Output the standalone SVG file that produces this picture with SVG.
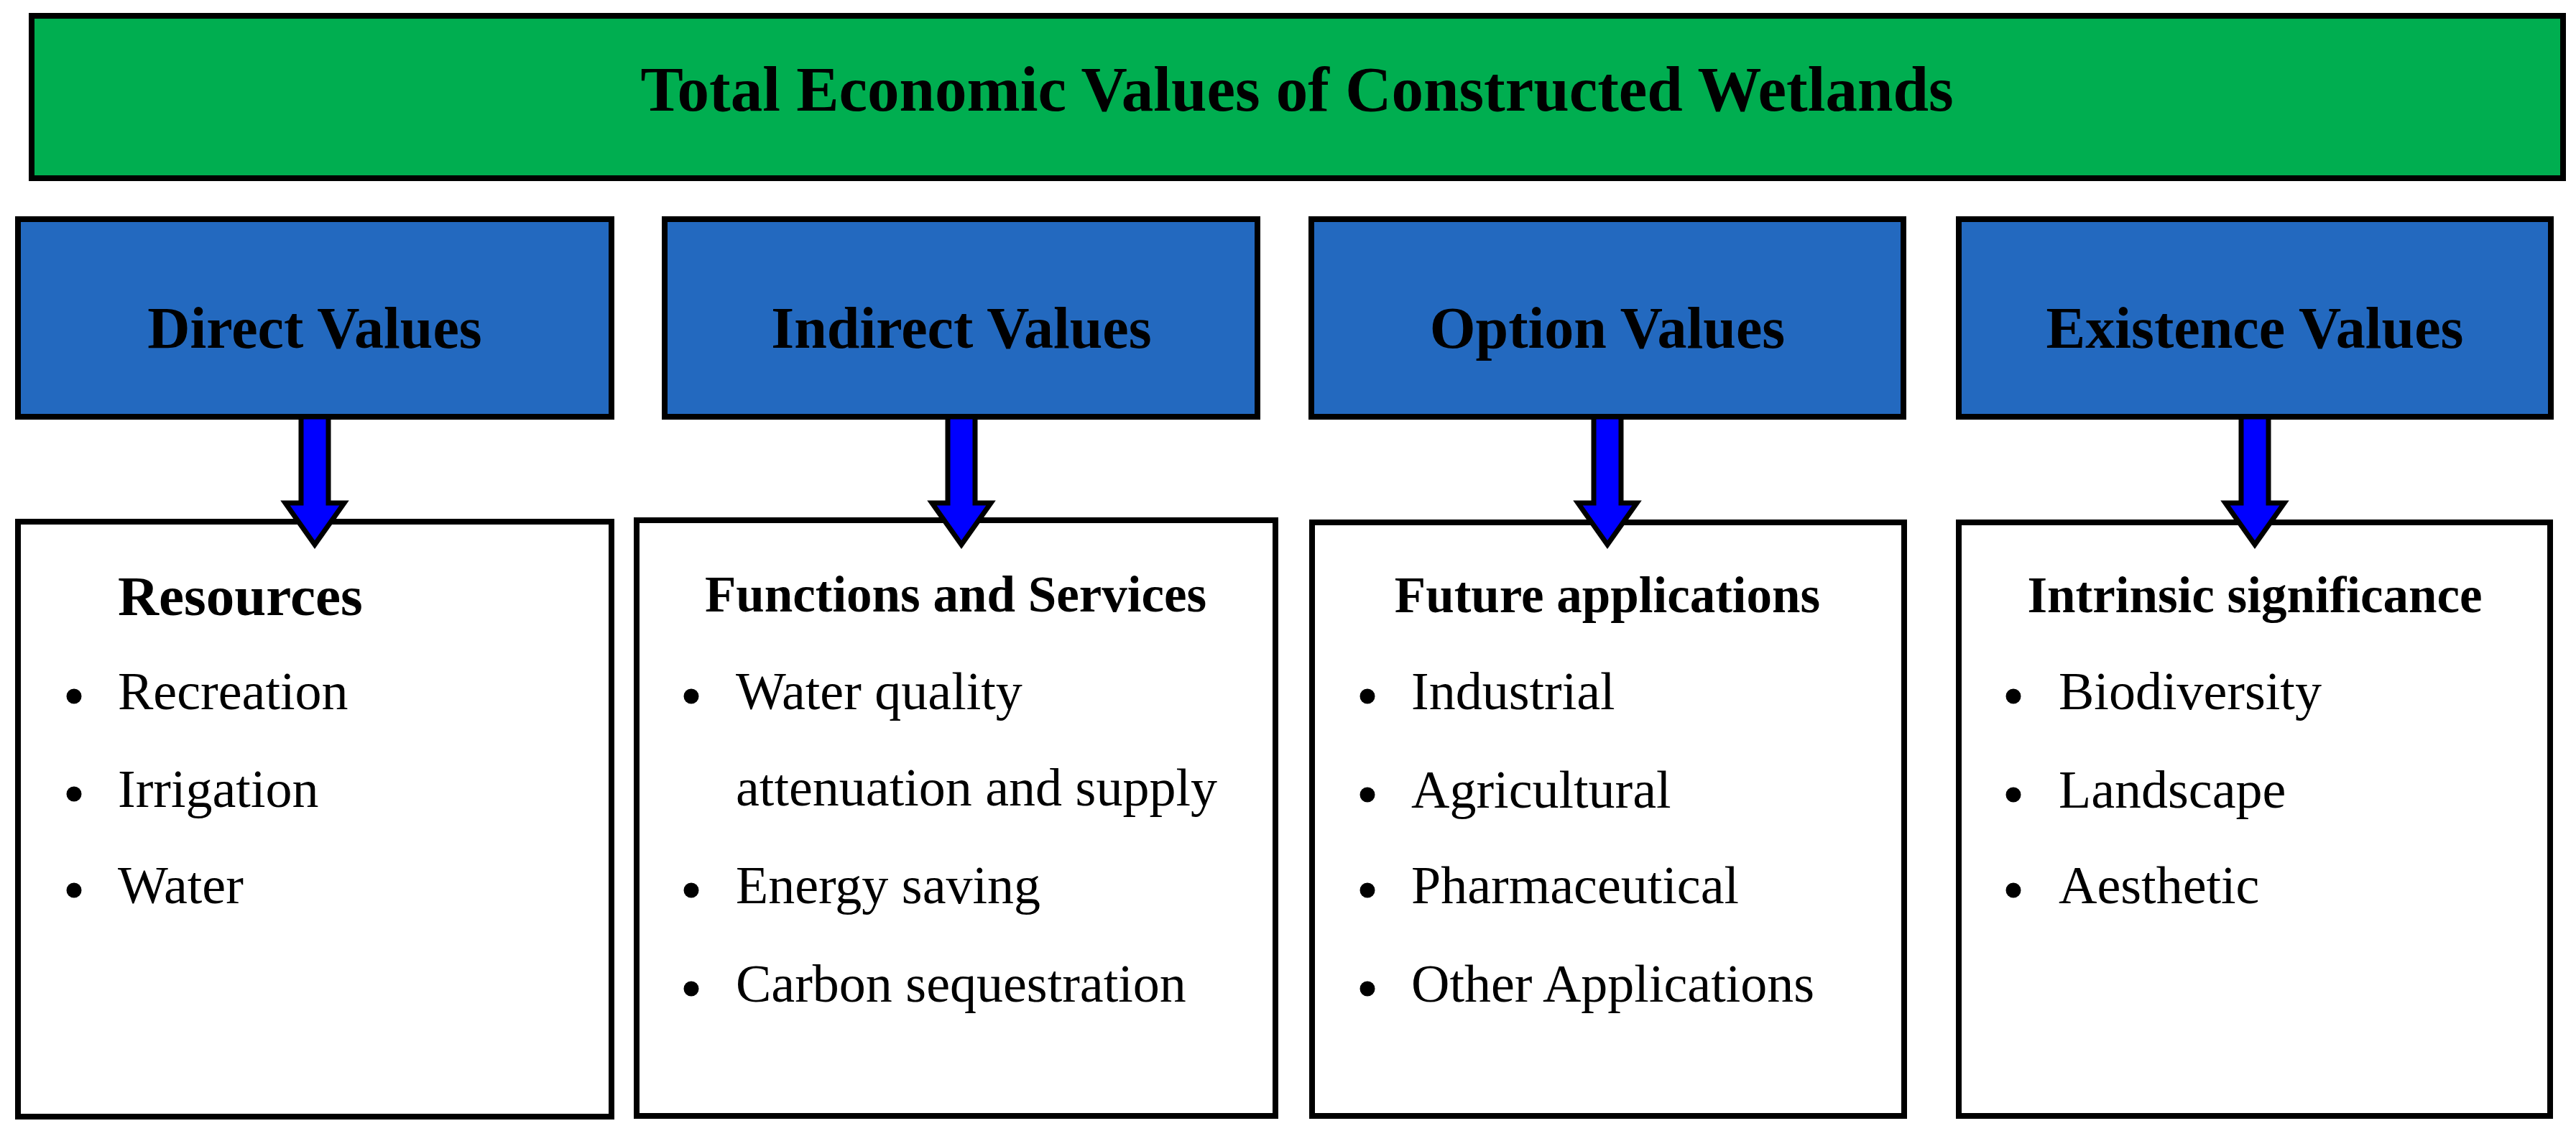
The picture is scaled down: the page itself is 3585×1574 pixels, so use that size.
<svg xmlns="http://www.w3.org/2000/svg" width="3585" height="1574" viewBox="0 0 3585 1574">
<style>
.bg{fill:#ffffff}
.title{fill:#00AE50;stroke:#000;stroke-width:8}
.cat{fill:#2369BF;stroke:#000;stroke-width:8}
.box{fill:#ffffff;stroke:#000;stroke-width:8}
.arrow{fill:#0000FF;stroke:#000;stroke-width:7;stroke-linejoin:miter;stroke-miterlimit:10}
text{font-family:"Liberation Serif","Times New Roman",serif;fill:#000}
.t1{font-size:89px;font-weight:bold;text-anchor:middle}
.t2{font-size:82px;font-weight:bold;text-anchor:middle}
.h1{font-size:79px;font-weight:bold}
.h2{font-size:71px;font-weight:bold;text-anchor:middle}
.li{font-size:74px}
.dot{fill:#000}
</style>
<rect class="bg" x="0" y="0" width="3585" height="1574"/>

<g id="title">
<rect class="title" x="44" y="22" width="3523" height="226"/>
<text class="t1" x="1805" y="154">Total Economic Values of Constructed Wetlands</text>
</g>

<g id="direct">
<rect class="cat" x="25" y="305" width="826" height="275"/>
<text class="t2" x="438" y="484">Direct Values</text>
</g>
<g id="indirect">
<rect class="cat" x="925" y="305" width="825" height="275"/>
<text class="t2" x="1338" y="484">Indirect Values</text>
</g>
<g id="option">
<rect class="cat" x="1825" y="305" width="824" height="275"/>
<text class="t2" x="2237" y="484">Option Values</text>
</g>
<g id="existence">
<rect class="cat" x="2726" y="305" width="824" height="275"/>
<text class="t2" x="3138" y="484">Existence Values</text>
</g>

<g id="resources">
<rect class="box" x="25" y="726" width="826" height="828"/>
<text class="h1" x="164" y="856">Resources</text>
<circle class="dot" cx="103" cy="969" r="10.5"/>
<text class="li" x="164" y="987">Recreation</text>
<circle class="dot" cx="103" cy="1105" r="10.5"/>
<text class="li" x="164" y="1123">Irrigation</text>
<circle class="dot" cx="103" cy="1239" r="10.5"/>
<text class="li" x="164" y="1257">Water</text>
</g>

<g id="functions">
<rect class="box" x="886" y="724" width="889" height="829"/>
<text class="h2" x="1330" y="851">Functions and Services</text>
<circle class="dot" cx="962" cy="969" r="10.5"/>
<text class="li" x="1024" y="987">Water quality</text>
<text class="li" x="1024" y="1121">attenuation and supply</text>
<circle class="dot" cx="962" cy="1239" r="10.5"/>
<text class="li" x="1024" y="1257">Energy saving</text>
<circle class="dot" cx="962" cy="1376" r="10.5"/>
<text class="li" x="1024" y="1394">Carbon sequestration</text>
</g>

<g id="future">
<rect class="box" x="1826" y="727" width="824" height="826"/>
<text class="h2" x="2237" y="852">Future applications</text>
<circle class="dot" cx="1903" cy="969" r="10.5"/>
<text class="li" x="1964" y="987">Industrial</text>
<circle class="dot" cx="1903" cy="1106" r="10.5"/>
<text class="li" x="1964" y="1124">Agricultural</text>
<circle class="dot" cx="1903" cy="1239" r="10.5"/>
<text class="li" x="1964" y="1257">Pharmaceutical</text>
<circle class="dot" cx="1903" cy="1376" r="10.5"/>
<text class="li" x="1964" y="1394">Other Applications</text>
</g>

<g id="intrinsic">
<rect class="box" x="2726" y="727" width="823" height="826"/>
<text class="h2" x="3138" y="852">Intrinsic significance</text>
<circle class="dot" cx="2802" cy="969" r="10.5"/>
<text class="li" x="2865" y="987">Biodiversity</text>
<circle class="dot" cx="2802" cy="1106" r="10.5"/>
<text class="li" x="2865" y="1124">Landscape</text>
<circle class="dot" cx="2802" cy="1239" r="10.5"/>
<text class="li" x="2865" y="1257">Aesthetic</text>
</g>

<g id="connectors">
<polygon class="arrow" points="419,580 457,580 457,700 479,700 438,758 397,700 419,700"/>
<polygon class="arrow" points="1319,580 1357,580 1357,700 1379,700 1338,758 1297,700 1319,700"/>
<polygon class="arrow" points="2218,580 2256,580 2256,700 2278,700 2237,758 2196,700 2218,700"/>
<polygon class="arrow" points="3119,580 3157,580 3157,700 3179,700 3138,758 3097,700 3119,700"/>
</g>
</svg>
